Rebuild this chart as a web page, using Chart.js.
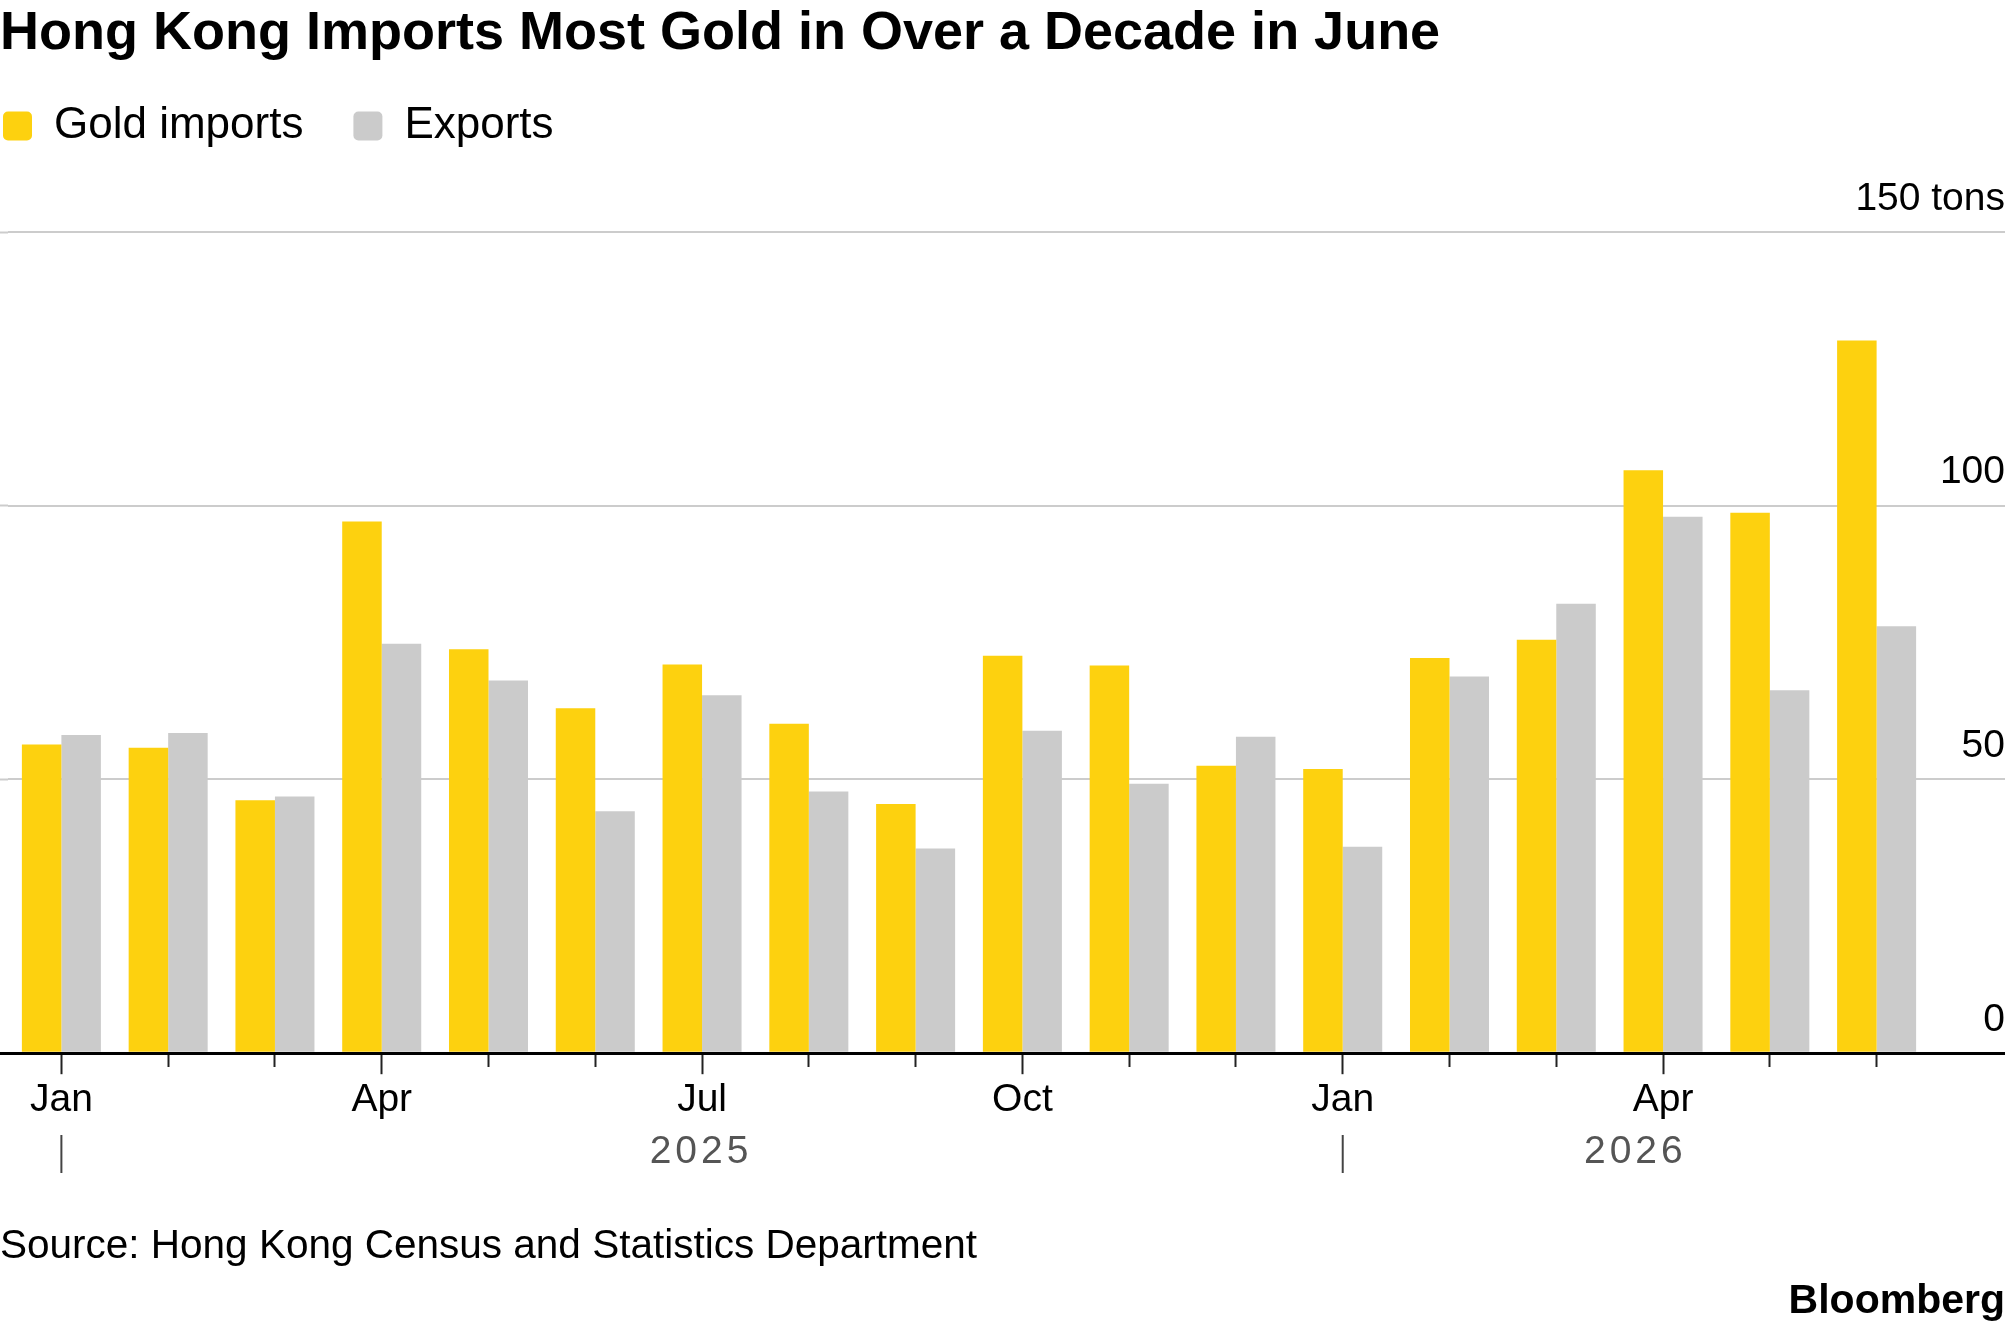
<!DOCTYPE html>
<html>
<head>
<meta charset="utf-8">
<title>Hong Kong Imports Most Gold in Over a Decade in June</title>
<script src="https://cdn.jsdelivr.net/npm/chart.js@4.4.1/dist/chart.umd.min.js"></script>
<style>
  html, body { margin: 0; padding: 0; background: #fff; }
  #wrap { width: 2005px; height: 1329px; }
</style>
</head>
<body>
<div id="wrap"><canvas id="gold" width="2005" height="1329"></canvas></div>
<script>
// monthly gold trade, tons
const months = [
  '2025-01', '2025-02', '2025-03', '2025-04', '2025-05', '2025-06',
  '2025-07', '2025-08', '2025-09', '2025-10', '2025-11', '2025-12',
  '2026-01', '2026-02', '2026-03', '2026-04', '2026-05', '2026-06'
];
const goldImports = [56.4, 55.8, 46.2, 97.1, 73.8, 63.0, 71.0, 60.2, 45.5, 72.6, 70.8, 52.5, 51.9, 72.2, 75.5, 106.5, 98.7, 130.2];
const goldExports = [58.1, 58.5, 46.9, 74.8, 68.1, 44.2, 65.4, 47.8, 37.4, 58.9, 49.2, 57.8, 37.7, 68.8, 82.1, 98.0, 66.3, 78.0];
const monthNames = ['Jan', 'Feb', 'Mar', 'Apr', 'May', 'Jun', 'Jul', 'Aug', 'Sep', 'Oct', 'Nov', 'Dec'];
const tickMonths = ['Jan', 'Apr', 'Jul', 'Oct'];
const years = ['2025', '2026'];
const yTicks = [0, 50, 100, 150];

const FONT = "'Liberation Sans', Arial, sans-serif";
const YELLOW = '#FDD10F';
const GREY = '#CBCBCB';

Chart.defaults.font.family = FONT;
Chart.defaults.color = '#000';

function monthName(i) {
  return monthNames[parseInt(months[i].slice(5), 10) - 1];
}
function isQuarter(i) {
  return tickMonths.includes(monthName(i));
}

const gridColor = c => (c.tick && c.tick.value === 0 ? '#000' : '#cccccc');
const gridWidth = c => (c.tick && c.tick.value === 0 ? 3 : 2);

// legend sits flush left, the library pads it by labels.padding
const legendShift = {
  id: 'legendShift',
  afterLayout(chart) {
    const pad = chart.options.plugins.legend.labels.padding;
    chart.legend.left = 3 - pad;
    chart.legend.top = 104 - pad;
  }
};

// year row under the month labels
const yearRow = {
  id: 'yearRow',
  afterDraw(chart) {
    const { ctx, chartArea } = chart;
    const xs = chart.scales.x;
    const step = xs.getPixelForValue(1) - xs.getPixelForValue(0);
    const top = xs.bottom;
    ctx.save();
    ctx.font = '39px ' + FONT;
    ctx.letterSpacing = '4px';
    ctx.fillStyle = '#555';
    ctx.textAlign = 'center';
    ctx.textBaseline = 'middle';
    years.forEach(yr => {
      const i = months.indexOf(yr + '-01');
      const x0 = xs.getPixelForValue(i);
      const x1 = Math.min(x0 + 12 * step, chartArea.right);
      ctx.strokeStyle = '#444';
      ctx.lineWidth = 2;
      ctx.beginPath();
      ctx.moveTo(x0, top + 8);
      ctx.lineTo(x0, top + 46);
      ctx.stroke();
      ctx.fillText(yr, (x0 + x1) / 2 - 1, top + 25);
    });
    ctx.restore();
  }
};

const footer = {
  id: 'footer',
  afterDraw(chart) {
    const ctx = chart.ctx;
    ctx.save();
    ctx.fillStyle = '#000';
    ctx.textBaseline = 'alphabetic';
    ctx.textAlign = 'left';
    ctx.font = '40.5px ' + FONT;
    ctx.fillText('Source: Hong Kong Census and Statistics Department', 0, chart.height - 71);
    ctx.textAlign = 'right';
    ctx.font = 'bold 41px ' + FONT;
    ctx.fillText('Bloomberg', chart.width, chart.height - 16);
    ctx.restore();
  }
};

new Chart(document.getElementById('gold'), {
  type: 'bar',
  data: {
    labels: months,
    datasets: [
      {
        label: 'Gold imports',
        data: goldImports,
        backgroundColor: YELLOW,
        borderWidth: 0,
        categoryPercentage: 0.74,
        barPercentage: 1.0
      },
      {
        label: 'Exports',
        data: goldExports,
        backgroundColor: GREY,
        borderWidth: 0,
        categoryPercentage: 0.74,
        barPercentage: 1.0
      }
    ]
  },
  options: {
    responsive: false,
    animation: false,
    devicePixelRatio: 1,
    layout: { padding: { left: 0, right: 0, top: 0, bottom: 202 } },
    scales: {
      x: {
        offset: true,
        z: 1,
        border: { display: true, color: '#000', width: 3 },
        grid: {
          offset: false,
          drawOnChartArea: false,
          drawTicks: true,
          tickLength: 21,
          tickWidth: 2,
          tickColor: '#222',
          tickBorderDash: c => (isQuarter(c.index) ? [] : [12, 100])
        },
        ticks: {
          autoSkip: false,
          maxRotation: 0,
          minRotation: 0,
          padding: 3,
          font: { size: 39 },
          color: '#000',
          callback: (v, i) => (isQuarter(i) ? monthName(i) : '')
        }
      },
      y: {
        type: 'linear',
        position: 'right',
        min: 0,
        max: 150,
        afterBuildTicks: s => { s.ticks = yTicks.map(v => ({ value: v })); },
        afterFit: s => { s.width = 75; },
        border: { display: false },
        grid: {
          color: gridColor,
          lineWidth: gridWidth,
          tickColor: gridColor,
          tickWidth: gridWidth,
          drawTicks: true,
          tickLength: 75
        },
        ticks: {
          mirror: true,
          padding: 75,
          labelOffset: -33,
          font: { size: 39 },
          color: '#000',
          callback: v => (v === 150 ? '150 tons' : String(v))
        }
      },
      yl: {
        type: 'linear',
        position: 'left',
        min: 0,
        max: 150,
        afterBuildTicks: s => { s.ticks = yTicks.map(v => ({ value: v })); },
        border: { display: false },
        grid: {
          drawOnChartArea: false,
          drawTicks: true,
          tickLength: 8,
          tickColor: gridColor,
          tickWidth: gridWidth
        },
        ticks: { display: false }
      }
    },
    plugins: {
      title: {
        display: true,
        align: 'start',
        text: 'Hong Kong Imports Most Gold in Over a Decade in June',
        color: '#000',
        font: { size: 54, weight: 'bold', lineHeight: 1 },
        padding: { top: 7, bottom: 67 }
      },
      legend: {
        display: true,
        align: 'start',
        labels: {
          boxWidth: 29,
          boxHeight: 29,
          useBorderRadius: true,
          borderRadius: 5,
          padding: 50,
          font: { size: 44 },
          color: '#000'
        }
      },
      tooltip: { enabled: false }
    }
  },
  plugins: [legendShift, yearRow, footer]
});
</script>
</body>
</html>
